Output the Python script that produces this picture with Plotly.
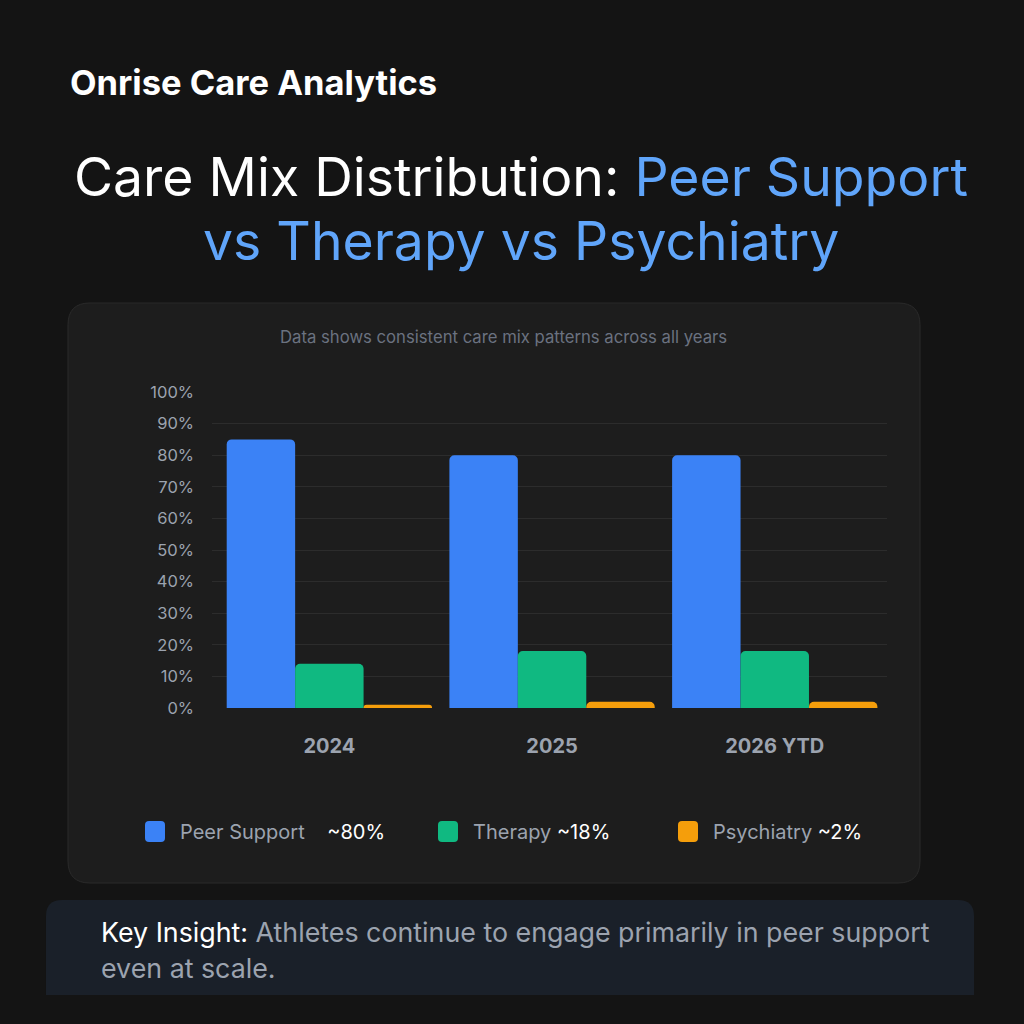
import plotly.graph_objects as go

# Dados
anos = ["2024", "2025", "2026 YTD"]
peer_support = [85, 80, 80]
therapy = [14, 18, 18]
psychiatry = [1, 2, 2]
series_names = ["Peer Support", "Therapy", "Psychiatry"]
series_avg = ["~80%", "~18%", "~2%"]
y_ticks = [0, 10, 20, 30, 40, 50, 60, 70, 80, 90, 100]

cores = ["#3b82f6", "#10b981", "#f59e0b"]
FONT = "Inter"

# Área do gráfico em pixels (janela 1024x1024)
W, H = 1024, 1024
PL, PR, PT, PB = 212, 887, 392, 708


def px_x(x):
    return (x - PL) / (PR - PL)


def px_y(y):
    return (PB - y) / (PB - PT)


def caixa_arredondada(x0, y0, x1, y1, r, so_topo=False):
    # caminho SVG com cantos arredondados, convertido para coordenadas "paper"
    def p(x, y):
        return f"{px_x(x):.5f},{px_y(y):.5f}"

    rb = 0 if so_topo else r
    return (
        f"M {p(x0 + r, y0)} L {p(x1 - r, y0)} Q {p(x1, y0)} {p(x1, y0 + r)} "
        f"L {p(x1, y1 - rb)} Q {p(x1, y1)} {p(x1 - rb, y1)} "
        f"L {p(x0 + rb, y1)} Q {p(x0, y1)} {p(x0, y1 - rb)} "
        f"L {p(x0, y0 + r)} Q {p(x0, y0)} {p(x0 + r, y0)} Z"
    )


fig = go.Figure()
for nome, valores, cor in zip(series_names, [peer_support, therapy, psychiatry], cores):
    fig.add_trace(
        go.Bar(x=anos, y=valores, name=nome, marker=dict(color=cor, line=dict(width=0)))
    )

fig.update_layout(
    width=W,
    height=H,
    barmode="group",
    bargap=0.078,
    bargroupgap=0,
    barcornerradius=5,
    showlegend=False,
    paper_bgcolor="#141414",
    plot_bgcolor="rgba(0,0,0,0)",
    margin=dict(l=PL, r=W - PR, t=PT, b=H - PB, pad=0),
    font=dict(family=FONT, color="#9ca3af"),
)

fig.update_xaxes(
    range=[-0.527, 2.504],
    showgrid=False,
    showline=False,
    zeroline=False,
    tickfont=dict(size=20, color="#9ca3af", family=FONT, weight="bold"),
    ticklabelstandoff=24,
)
fig.update_yaxes(
    range=[0, 100],
    tickvals=y_ticks,
    ticktext=[f"{v}%" for v in y_ticks],
    tickfont=dict(size=16.5, color="#9ca3af", family=FONT),
    gridcolor="#2c2c2c",
    gridwidth=1,
    zeroline=False,
    showline=False,
    ticklabelstandoff=17,
)

# Fundo: cartão do gráfico e caixa de destaque
fig.add_shape(
    type="path",
    path=caixa_arredondada(68, 303, 920, 883, 22),
    xref="paper",
    yref="paper",
    fillcolor="#1d1d1d",
    line=dict(color="#2a2a2a", width=1),
    layer="below",
)
fig.add_shape(
    type="path",
    path=caixa_arredondada(46, 900, 974, 995, 16, so_topo=True),
    xref="paper",
    yref="paper",
    fillcolor="#1a2029",
    line=dict(width=0),
    layer="below",
)

anotacoes = []


def texto(x, y, t, size, cor="#ffffff", anchor="left", weight="normal"):
    anotacoes.append(
        dict(
            x=px_x(x),
            y=px_y(y),
            xref="paper",
            yref="paper",
            text=t,
            showarrow=False,
            xanchor=anchor,
            yanchor="middle",
            font=dict(family=FONT, size=size, color=cor, weight=weight),
        )
    )


texto(68, 82, "Onrise Care Analytics", 34.5, weight="bold")
texto(
    521,
    177,
    "Care Mix Distribution: <span style='color:#60a5fa'>Peer Support</span>",
    53.5,
    anchor="center",
)
texto(521, 240, "vs Therapy vs Psychiatry", 53.5, cor="#60a5fa", anchor="center")
texto(503, 337, "Data shows consistent care mix patterns across all years", 16.7,
      cor="#6b7280", anchor="center")

# Legenda manual
leg_x = [145, 438, 678]
for x, nome, media, cor in zip(leg_x, series_names, series_avg, cores):
    fig.add_shape(
        type="path",
        path=caixa_arredondada(x, 821, x + 20, 842, 4),
        xref="paper",
        yref="paper",
        fillcolor=cor,
        line=dict(width=0),
    )
sep = ["&nbsp;&nbsp;&nbsp;&nbsp;", " ", " "]
for x, nome, media, s in zip(leg_x, series_names, series_avg, sep):
    texto(x + 33, 832, f"{nome}{s}<span style='color:#ffffff'>{media}</span>", 20,
          cor="#9ca3af")

texto(99, 932,
      "Key Insight: <span style='color:#9ca3af'>Athletes continue to engage primarily in peer support</span>",
      26.8)
texto(99, 968, "even at scale.", 26.8, cor="#9ca3af")

fig.update_layout(annotations=anotacoes)

fig.write_html(
    "out.html",
    config={"displayModeBar": False},
    post_script="document.body.style.margin='0';document.body.style.background='#141414';",
)
